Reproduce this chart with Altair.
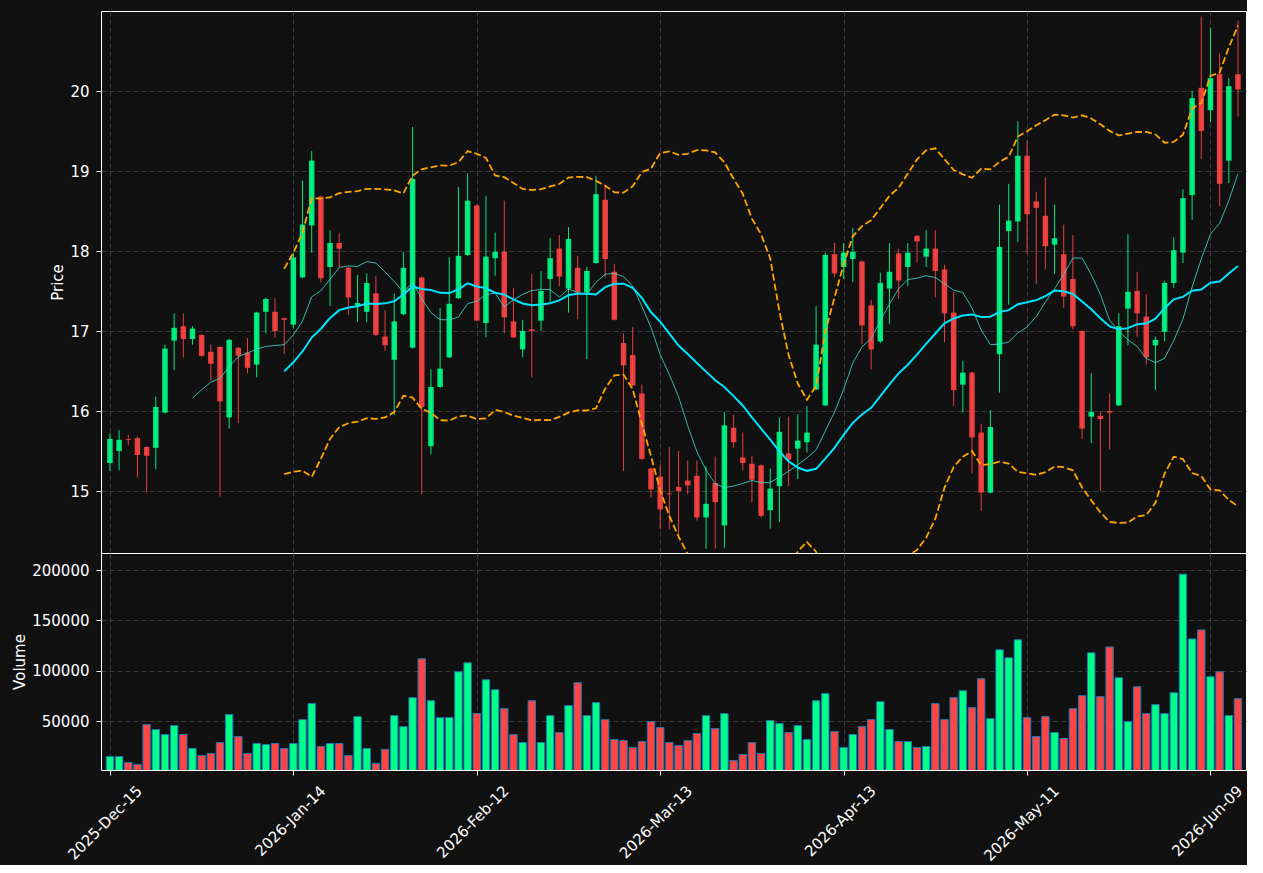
import altair as alt
import pandas as pd
import numpy as np

# ---- data ----
opens = [15.35, 15.50, 15.65, 15.66, 15.55, 15.54, 15.98, 16.88, 17.06, 16.90,
         16.95, 16.74, 16.80, 15.92, 16.79, 16.73, 16.58, 17.24, 17.24, 17.16,
         17.08, 17.67, 18.32, 18.68, 17.80, 18.10, 17.79, 17.32, 17.24, 17.47,
         16.93, 16.64, 17.21, 16.79, 17.67, 15.56, 16.30, 16.67, 17.41, 17.95,
         18.57, 17.10, 17.91, 17.99, 17.12, 16.77, 17.02, 17.13, 17.65, 18.03,
         17.53, 17.79, 17.48, 17.85, 18.64, 17.74, 16.85, 16.70, 16.22, 15.28,
         15.18, 14.97, 15.05, 15.13, 15.19, 14.67, 15.10, 14.57, 15.79, 15.42,
         15.34, 15.32, 14.76, 15.06, 15.47, 15.53, 15.61, 16.27, 16.07, 17.96,
         17.80, 17.90, 17.87, 17.32, 16.87, 17.53, 17.97, 17.80, 18.19, 17.93,
         18.03, 17.77, 17.23, 16.33, 16.48, 15.73, 14.98, 16.71, 18.25, 18.37,
         19.19, 18.62, 18.44, 18.08, 17.96, 17.65, 17.00, 15.93, 15.94, 16.00,
         16.07, 17.28, 17.50, 17.18, 16.82, 16.99, 17.60, 17.98, 18.70, 20.04,
         19.76, 20.21, 19.13, 20.21]
highs = [15.72, 15.76, 15.70, 15.68, 15.56, 16.18, 16.83, 17.22, 17.22, 17.06,
         16.96, 16.83, 16.81, 16.90, 16.80, 16.91, 17.24, 17.42, 17.41, 17.17,
         17.97, 18.88, 19.25, 18.69, 18.26, 18.22, 17.80, 17.70, 17.72, 17.69,
         17.26, 17.47, 17.99, 19.55, 17.68, 16.52, 17.29, 17.92, 18.80, 18.97,
         18.58, 18.69, 18.23, 18.63, 17.54, 17.14, 17.71, 17.75, 18.16, 18.20,
         18.30, 17.94, 17.80, 18.94, 18.83, 17.84, 16.97, 17.05, 16.33, 15.29,
         15.33, 15.55, 15.50, 15.38, 15.38, 15.31, 15.43, 15.99, 15.95, 15.73,
         15.44, 15.33, 15.28, 15.92, 15.93, 15.96, 16.06, 17.31, 17.98, 18.10,
         18.10, 18.29, 17.88, 17.39, 17.73, 18.10, 18.03, 18.10, 18.20, 18.26,
         18.26, 17.83, 17.49, 16.63, 16.49, 15.84, 16.01, 18.58, 18.84, 19.62,
         19.38, 18.74, 18.92, 18.58, 18.33, 18.20, 17.01, 16.47, 16.00, 16.22,
         17.22, 18.21, 17.74, 17.46, 16.93, 17.63, 18.17, 18.77, 20.00, 20.93,
         20.79, 20.47, 20.16, 20.88]
lows = [15.25, 15.26, 15.57, 15.17, 14.98, 15.27, 15.97, 16.51, 16.67, 16.83,
        16.68, 16.38, 14.93, 15.78, 15.85, 16.47, 16.42, 16.97, 16.92, 16.71,
        17.03, 17.66, 17.98, 17.61, 17.31, 17.80, 17.20, 17.11, 17.11, 16.94,
        16.75, 15.95, 17.20, 16.78, 14.96, 15.46, 16.29, 16.66, 17.40, 17.94,
        17.12, 16.92, 17.69, 16.97, 16.91, 16.67, 16.42, 17.00, 17.36, 17.56,
        17.23, 17.15, 16.65, 17.84, 17.67, 17.13, 15.25, 16.31, 15.39, 14.92,
        14.52, 14.52, 14.40, 14.96, 14.63, 14.28, 14.28, 14.29, 15.54, 15.26,
        14.86, 14.67, 14.53, 14.61, 15.06, 15.15, 15.48, 16.26, 16.06, 17.67,
        17.65, 17.61, 16.84, 16.52, 16.85, 17.09, 17.40, 17.56, 17.86, 17.80,
        17.42, 16.86, 16.06, 15.98, 15.22, 14.75, 14.97, 16.23, 17.33, 18.11,
        17.97, 17.59, 17.77, 17.71, 17.29, 17.02, 15.65, 15.60, 15.00, 15.52,
        16.06, 16.82, 16.93, 16.58, 16.26, 16.87, 17.54, 17.85, 18.39, 19.15,
        19.61, 18.56, 18.85, 19.68]
closes = [15.65, 15.64, 15.64, 15.45, 15.44, 16.05, 16.78, 17.04, 16.90, 17.03,
          16.69, 16.59, 16.12, 16.89, 16.69, 16.54, 17.23, 17.40, 17.00, 17.14,
          17.92, 18.33, 19.13, 17.66, 18.10, 18.03, 17.42, 17.35, 17.60, 16.95,
          16.82, 17.12, 17.79, 18.90, 16.05, 16.30, 16.53, 17.34, 17.94, 18.63,
          17.13, 17.93, 17.99, 17.17, 16.92, 17.00, 17.00, 17.50, 17.91, 17.68,
          18.15, 17.48, 17.75, 18.71, 17.90, 17.14, 16.57, 16.32, 15.40, 15.02,
          14.77, 14.96, 15.00, 15.07, 14.67, 14.84, 14.86, 15.82, 15.61, 15.35,
          15.14, 14.69, 15.03, 15.74, 15.39, 15.63, 15.73, 16.83, 17.95, 17.72,
          17.98, 17.99, 17.07, 16.77, 17.60, 17.74, 17.63, 17.98, 18.12, 18.03,
          17.75, 17.22, 16.26, 16.48, 15.67, 14.98, 15.80, 18.05, 18.38, 19.19,
          18.46, 18.54, 18.06, 18.16, 17.43, 17.06, 15.78, 15.99, 15.90, 15.98,
          17.06, 17.49, 17.22, 16.67, 16.89, 17.60, 18.01, 18.66, 19.91, 19.50,
          20.16, 18.84, 20.06, 20.02]
volumes = [15000, 15000, 9100, 7200, 46700, 41800, 36800, 45700, 36800, 23000,
           16000, 18000, 28900, 56600, 34800, 18000, 27900, 26900, 27900, 23000,
           27900, 51600, 67500, 25000, 27900, 27900, 16000, 54600, 23000, 8100,
           22000, 55600, 44700, 73400, 112000, 70400, 53600, 53600, 99100, 108000,
           57600, 91200, 81300, 62500, 36800, 28900, 70400, 28900, 55600, 38800,
           65500, 88200, 55600, 68500, 51600, 31900, 30900, 24000, 29900, 49700,
           43700, 28900, 25900, 30900, 37800, 55600, 42700, 57600, 11100, 17000,
           28900, 18000, 50700, 47700, 38800, 45700, 31900, 70400, 77400, 39800,
           24000, 36800, 44700, 51600, 69400, 41800, 29900, 29900, 24000, 25000,
           67500, 51600, 73400, 80300, 63500, 92200, 52600, 120900, 113000, 130800,
           53600, 34800, 54600, 38800, 32900, 62500, 75400, 117900, 74400, 123800,
           93200, 49700, 84300, 57600, 66500, 57600, 78300, 196000, 131700, 140600,
           94200, 99100, 55600, 72400]
tick_idx = [0, 20, 40, 60, 80, 100, 120]
tick_labels = ["2025-Dec-15", "2026-Jan-14", "2026-Feb-12", "2026-Mar-13",
               "2026-Apr-13", "2026-May-11", "2026-Jun-09"]
price_ticks = [15, 16, 17, 18, 19, 20]
volume_ticks = [50000, 100000, 150000, 200000]

df = pd.DataFrame({
    "idx": np.arange(len(closes)),
    "open": opens, "high": highs, "low": lows, "close": closes,
    "volume": volumes,
})
df["dir"] = np.where(df["close"] >= df["open"], "up", "down")

GREEN = "#00ff88"
RED = "#ff4444"
FONT = "DejaVu Sans"

color = alt.Color("dir:N", scale=alt.Scale(domain=["up", "down"], range=[GREEN, RED]), legend=None)
xscale = alt.Scale(domain=[-0.43, 123.33], nice=False, zero=False)
x_price = alt.X("idx:Q", scale=xscale,
                axis=alt.Axis(values=tick_idx, labels=False, ticks=False, domain=False,
                              grid=True, title=""))
yscale = alt.Scale(domain=[14.225, 21.0], nice=False, zero=False)
yaxis = alt.Axis(values=price_ticks, format="d", title="Price", grid=True)

base = alt.Chart(df)

wicks = base.mark_rule(strokeWidth=1, opacity=0.9, clip=True).encode(
    x=x_price, y=alt.Y("low:Q", scale=yscale, axis=yaxis), y2="high:Q", color=color)
bodies = base.mark_bar(size=5.5, opacity=0.9, clip=True).encode(
    x=x_price, y=alt.Y("open:Q", scale=yscale, axis=yaxis), y2="close:Q", color=color)

ma10 = base.transform_window(
    ma10="mean(close)", n10="count()", frame=[-9, 0], sort=[alt.SortField("idx")]
).transform_filter("datum.n10 >= 10").mark_line(
    color="#40e0d0", strokeWidth=1, opacity=0.8, clip=True
).encode(x=x_price, y=alt.Y("ma10:Q", scale=yscale, axis=yaxis))

bb = base.transform_window(
    ma20="mean(close)", sd20="stdev(close)", n20="count()", frame=[-19, 0],
    sort=[alt.SortField("idx")]
).transform_filter("datum.n20 >= 20").transform_calculate(
    upper="datum.ma20 + 2 * datum.sd20", lower="datum.ma20 - 2 * datum.sd20")

ma20 = bb.mark_line(color="#00e5ff", strokeWidth=2, clip=True).encode(
    x=x_price, y=alt.Y("ma20:Q", scale=yscale, axis=yaxis))
upper = bb.mark_line(color="#ffa500", strokeWidth=1.8, strokeDash=[7, 3], clip=True).encode(
    x=x_price, y=alt.Y("upper:Q", scale=yscale, axis=yaxis))
lower = bb.mark_line(color="#ffa500", strokeWidth=1.8, strokeDash=[7, 3], clip=True).encode(
    x=x_price, y=alt.Y("lower:Q", scale=yscale, axis=yaxis))

price = alt.layer(wicks, bodies, ma10, ma20, upper, lower).properties(width=1145, height=542)

label_expr = "[" + ",".join("'%s'" % s for s in tick_labels) + "][round(datum.value / 20)]"
x_vol = alt.X("idx:Q", scale=xscale,
              axis=alt.Axis(values=tick_idx, labelExpr=label_expr, grid=True, title="",
                            labelAngle=-45, labelAlign="right", labelBaseline="middle",
                            labelPadding=13, labelOffset=29, tickSize=5))
vol = base.mark_bar(size=7.4, stroke="#1f77b4", strokeWidth=1, clip=True).encode(
    x=x_vol,
    y=alt.Y("volume:Q", scale=alt.Scale(domain=[1600, 217000], nice=False, zero=False),
            axis=alt.Axis(values=volume_ticks, format="d", title="Volume", grid=True)),
    color=color,
).properties(width=1145, height=217)

chart = alt.vconcat(price, vol, spacing=0, bounds="flush").properties(
    padding={"left": 12, "top": 10, "right": 0, "bottom": 0},
    background="#111111",
).configure_view(
    stroke="#ffffff", strokeWidth=1
).configure_axis(
    labelColor="#ffffff", labelFont=FONT, labelFontSize=15,
    titleColor="#ffffff", titleFont=FONT, titleFontSize=15, titleFontWeight="normal",
    titlePadding=4, labelPadding=7,
    tickColor="#ffffff", tickSize=5, tickWidth=1, domain=False,
    gridColor="#3c3c3c", gridDash=[5, 3], gridWidth=1,
)

chart.save("out.html", embed_options={"renderer": "svg", "actions": False})
